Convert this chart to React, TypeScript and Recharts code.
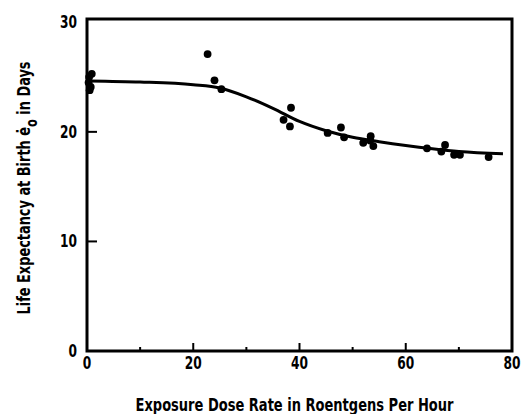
import React from 'react'
import { ScatterChart, Scatter, XAxis, YAxis, ReferenceArea } from 'recharts'

// observed points (dose rate R/hr, life expectancy days)
const doseRate = [0.4, 0.9, 0.3, 0.7, 0.5, 22.7, 24.0, 25.3, 37.0, 38.4, 38.2, 45.3, 47.8, 48.4, 52.0, 53.4, 53.3, 53.9, 64.0, 66.7, 67.4, 69.1, 70.2, 75.6]
const lifeDays = [25.0, 25.3, 24.5, 24.1, 23.8, 27.1, 24.7, 23.9, 21.1, 22.2, 20.5, 19.9, 20.4, 19.5, 19.0, 19.6, 19.2, 18.7, 18.5, 18.2, 18.8, 17.9, 17.9, 17.7]

// fitted curve
const curveX = [0.5, 10, 20, 25, 30, 35, 40, 45, 50, 55, 60, 65, 70, 78.3]
const curveY = [24.65, 24.55, 24.3, 24.0, 23.2, 22.15, 20.95, 20.1, 19.5, 19.1, 18.75, 18.45, 18.2, 18.0]

const xTicks = [0, 10, 20, 30, 40, 50, 60, 70, 80]
const yTicks = [0, 10, 20, 30]

const points = doseRate.map((x, i) => ({ x, y: lifeDays[i] }))
const curve = curveX.map((x, i) => ({ x, y: curveY[i] }))

const FONT = '"Liberation Sans Narrow", "DejaVu Sans Condensed", "DejaVu Sans", sans-serif'

function XTick(props: any) {
  const { x, y, payload } = props
  const v = payload.value
  const major = v % 20 === 0
  const s = String(v)
  return (
    <g>
      {v > 0 && v < 80 && <line x1={x} x2={x} y1={y} y2={y - (major ? 8 : 4)} stroke='#000' strokeWidth={2} />}
      {major && (
        <text x={x} y={y + 18} textAnchor='middle' fontFamily={FONT} fontWeight='bold' fontSize={17}
          textLength={s.length * 8.5} lengthAdjust='spacingAndGlyphs' fill='#000'>
          {s}
        </text>
      )}
    </g>
  )
}

function YTick(props: any) {
  const { x, y, payload } = props
  const v = payload.value
  const s = String(v)
  return (
    <g>
      {v > 0 && v < 30 && <line x1={x} x2={x + 10} y1={y} y2={y} stroke='#000' strokeWidth={2} />}
      <text x={x - 10} y={y + 6} textAnchor='end' fontFamily={FONT} fontWeight='bold' fontSize={17}
        textLength={s.length * 8.5} lengthAdjust='spacingAndGlyphs' fill='#000'>
        {s}
      </text>
    </g>
  )
}

function XTitle(props: any) {
  const vb = props.viewBox
  return (
    <text x={vb.x + vb.width / 2 - 5} y={vb.y + 60} textAnchor='middle' fontFamily={FONT} fontWeight='bold' fontSize={17}
      textLength={318} lengthAdjust='spacingAndGlyphs' fill='#000'>
      Exposure Dose Rate in Roentgens Per Hour
    </text>
  )
}

function YTitle(props: any) {
  const vb = props.viewBox
  const cx = vb.x + 3
  const cy = vb.y + vb.height / 2 + 3
  return (
    <text x={cx} y={cy} transform={`rotate(-90 ${cx} ${cy})`} textAnchor='middle' fontFamily={FONT} fontWeight='bold' fontSize={17}
      textLength={253} lengthAdjust='spacingAndGlyphs' fill='#000'>
      Life Expectancy at Birth ė<tspan dy={7} fontSize={15}>o</tspan>
      <tspan dy={-7}> in Days</tspan>
    </text>
  )
}

export default function App() {
  return (
    <div style={{ position: 'absolute', left: 0, top: 0, background: '#fff' }}>
      <ScatterChart width={523} height={414} margin={{ top: 19, right: 11, left: 27, bottom: 33 }}>
        <XAxis
          type='number'
          dataKey='x'
          domain={[0, 80]}
          ticks={xTicks}
          interval={0}
          tickLine={false}
          tickSize={0}
          tickMargin={0}
          axisLine={false}
          tick={<XTick />}
          label={<XTitle />}
        />
        <YAxis
          type='number'
          dataKey='y'
          domain={[0, 30.3]}
          ticks={yTicks}
          interval={0}
          tickLine={false}
          tickSize={0}
          tickMargin={0}
          axisLine={false}
          tick={<YTick />}
          label={<YTitle />}
        />
        <ReferenceArea x1={0} x2={80} y1={0} y2={30.3} fill='none' stroke='#000' strokeWidth={3} ifOverflow='visible' />
        <Scatter
          data={curve}
          line={{ stroke: '#000', strokeWidth: 3 }}
          lineJointType='monotoneX'
          shape={() => <g />}
          isAnimationActive={false}
        />
        <Scatter data={points} fill='#000' shape={(p: any) => <circle cx={p.cx} cy={p.cy} r={3.9} fill='#000' />} isAnimationActive={false} />
      </ScatterChart>
    </div>
  )
}
